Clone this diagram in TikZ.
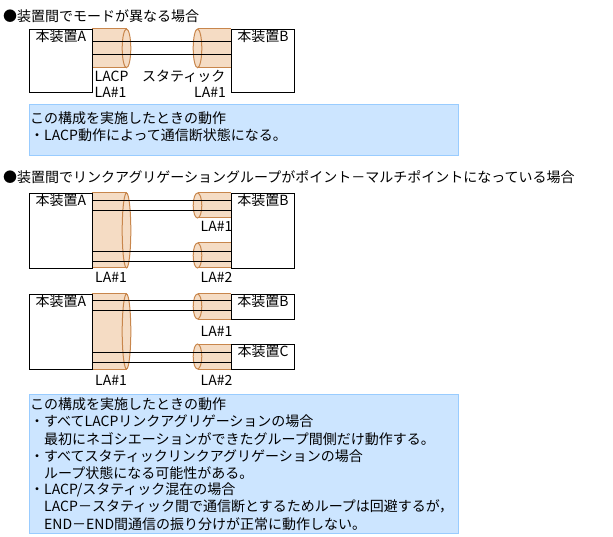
\documentclass[tikz,border=0pt]{standalone}
\usepackage{fontspec}
\setmainfont{Noto Sans CJK JP}
\definecolor{bfill}{HTML}{F5DCC4}
\definecolor{bline}{HTML}{C8864C}
\definecolor{nfill}{HTML}{CCE5FF}
\definecolor{nline}{HTML}{99CCFF}
% left bundle: top, bottom, mid, y radius
\newcommand\bunL[4]{%
  \fill[bfill] (92,#1) rectangle (126.5,#2);
  \path[fill=bfill,draw=bline,line width=1pt] (126.5,#3) ellipse (4.3pt and #4pt);
  \draw[bline,line width=1pt] (92,#1) -- (126.5,#1) (92,#2) -- (126.5,#2);}
% right bundle: top, bottom, mid, y radius
\newcommand\bunR[4]{%
  \fill[bfill] (197.5,#1) rectangle (231,#2);
  \path[fill=bfill,draw=bline,line width=1pt] (197.5,#3) ellipse (4.3pt and #4pt);
  \draw[bline,line width=1pt] (197.5,#1) -- (231,#1) (197.5,#2) -- (231,#2);}
\begin{document}
\begin{tikzpicture}[x=1pt,y=-1pt,
  dev/.style={draw=black,line width=1pt,fill=white,inner sep=0pt,anchor=north west,minimum width=63pt},
  lbl/.style={inner sep=0pt,anchor=west,font=\fontsize{14pt}{14pt}\selectfont},
  nm/.style={lbl,anchor=north,yshift=-1pt},
  link/.style={draw=black,line width=1pt},
  note/.style={draw=nline,fill=nfill,line width=1.3pt,inner sep=0pt,anchor=north west,minimum width=429pt}]
\useasboundingbox (0,0) rectangle (613,537);

% ---------- section 1 ----------
\node[lbl] (title1) at (3,16) {●装置間でモードが異なる場合};
\bunL{29}{67.7}{48.35}{19.35}
\bunR{29}{67.7}{48.35}{19.35}
\node[dev,minimum height=63pt] (A1) at (29,29) {};
\node[dev,minimum height=63pt] (B1) at (231,29) {};
\node[nm] (tA1) at (A1.north) {本装置A};
\node[nm] (tB1) at (B1.north) {本装置B};
\draw[link] (A1.east |- 0,41.5) -- (B1.west |- 0,41.5);
\draw[link] (A1.east |- 0,54.5) -- (B1.west |- 0,54.5);
\node[lbl] (l1a) at (94.5,76) {LACP};
\node[lbl] (l1b) at (94.5,92.7) {LA\#1};
\node[lbl] (l1c) at (142,76) {スタティック};
\node[lbl] (l1d) at (194,92.7) {LA\#1};
\node[note,minimum height=51pt] (N1) at (29,104) {};
\node[lbl] (n1a) at (30,118.3) {この構成を実施したときの動作};
\node[lbl] (n1b) at (30,135) {・LACP動作によって通信断状態になる。};

% ---------- section 2 ----------
\node[lbl] (title2) at (3,177) {●装置間でリンクアグリゲーショングループがポイント－マルチポイントになっている場合};
\bunL{193}{268}{230.5}{37.5}
\bunR{193}{218}{205.5}{12.5}
\bunR{243}{268}{255.5}{12.5}
\node[dev,minimum height=75pt] (A2) at (29,193) {};
\node[dev,minimum height=75pt] (B2) at (231,193) {};
\node[nm] (tA2) at (A2.north) {本装置A};
\node[nm] (tB2) at (B2.north) {本装置B};
\draw[link] (A2.east |- 0,200.7) -- (B2.west |- 0,200.7);
\draw[link] (A2.east |- 0,210.7) -- (B2.west |- 0,210.7);
\draw[link] (A2.east |- 0,251.7) -- (B2.west |- 0,251.7);
\draw[link] (A2.east |- 0,261.5) -- (B2.west |- 0,261.5);
\node[lbl] (l2a) at (200.5,226.7) {LA\#1};
\node[lbl] (l2b) at (95,277.3) {LA\#1};
\node[lbl] (l2c) at (200.5,277.3) {LA\#2};

% ---------- section 3 ----------
\bunL{294}{369}{331.5}{37.5}
\bunR{294}{319}{306.5}{12.5}
\bunR{344}{369}{356.5}{12.5}
\node[dev,minimum height=75pt] (A3) at (29,294) {};
\node[dev,minimum height=25pt] (B3) at (231,294) {};
\node[dev,minimum height=25pt] (C3) at (231,344) {};
\node[nm] (tA3) at (A3.north) {本装置A};
\node[nm] (tB3) at (B3.north) {本装置B};
\node[nm] (tC3) at (C3.north) {本装置C};
\draw[link] (A3.east |- 0,301) -- (B3.west |- 0,301);
\draw[link] (A3.east |- 0,311) -- (B3.west |- 0,311);
\draw[link] (A3.east |- 0,352.7) -- (C3.west |- 0,352.7);
\draw[link] (A3.east |- 0,362) -- (C3.west |- 0,362);
\node[lbl] (l3a) at (200.5,331.7) {LA\#1};
\node[lbl] (l3b) at (95,380) {LA\#1};
\node[lbl] (l3c) at (200.5,380) {LA\#2};

\node[note,minimum height=139pt] (N2) at (29,394) {};
\node[lbl] (n2a) at (30,404) {この構成を実施したときの動作};
\node[lbl] (n2b) at (30,421.7) {・すべてLACPリンクアグリゲーションの場合};
\node[lbl] (n2c) at (44,439.3) {最初にネゴシエーションができたグループ間側だけ動作する。};
\node[lbl] (n2d) at (30,456.7) {・すべてスタティックリンクアグリゲーションの場合};
\node[lbl] (n2e) at (44,472.7) {ループ状態になる可能性がある。};
\node[lbl] (n2f) at (30,490) {・LACP/スタティック混在の場合};
\node[lbl] (n2g) at (44,506.7) {LACP－スタティック間で通信断とするためループは回避するが，};
\node[lbl] (n2h) at (44,524.3) {END－END間通信の振り分けが正常に動作しない。};
\end{tikzpicture}
\end{document}
